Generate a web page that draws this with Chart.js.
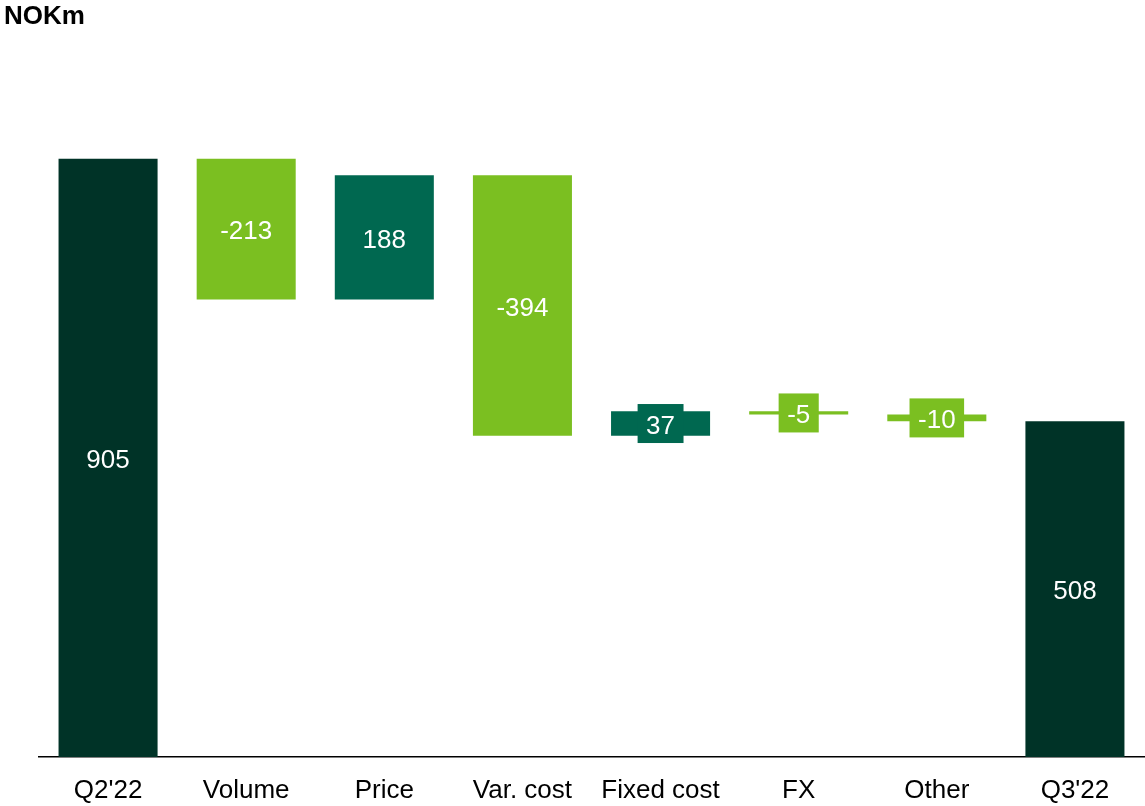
<!DOCTYPE html>
<html>
<head>
<meta charset="utf-8">
<script src="https://cdn.jsdelivr.net/npm/chart.js@4/dist/chart.umd.min.js"></script>
<style>
  html, body { margin: 0; padding: 0; background: #fff; }
  #wrap { width: 1145px; height: 806px; position: relative; }
</style>
</head>
<body>
<div id="wrap"><canvas id="bridge"></canvas></div>
<script>
/* NOKm bridge Q2'22 -> Q3'22 */
const categories = ["Q2'22", "Volume", "Price", "Var. cost", "Fixed cost", "FX", "Other", "Q3'22"];
const changes = [905, -213, 188, -394, 37, -5, -10, 508];
const isTotal = [true, false, false, false, false, false, false, true];
const unitLabel = "NOKm";

const DARK = '#003327', MID = '#006850', LIGHT = '#7BBF21';

// floating ranges from the running total
let run = 0;
const ranges = changes.map((v, i) => {
  if (isTotal[i]) { run = v; return [0, v]; }
  const r = [run, run + v];
  run += v;
  return r;
});
const colors = changes.map((v, i) => isTotal[i] ? DARK : (v < 0 ? LIGHT : MID));

const FONT = '"Liberation Sans", Arial, sans-serif';

const barLabels = {
  id: 'barLabels',
  afterDatasetsDraw(chart) {
    const c = chart.ctx;
    const meta = chart.getDatasetMeta(0);
    c.save();
    c.font = '26px ' + FONT;
    c.textAlign = 'center';
    c.textBaseline = 'middle';
    meta.data.forEach((bar, i) => {
      const txt = String(changes[i]);
      const cy = (bar.y + bar.base) / 2;
      const h = Math.abs(bar.base - bar.y);
      if (h < 36) {
        const w = c.measureText(txt).width + 17;
        c.fillStyle = colors[i];
        c.fillRect(bar.x - w / 2, cy - 19.5, w, 39);
      }
      c.fillStyle = '#ffffff';
      c.fillText(txt, bar.x, cy + 3);
    });
    // unit caption
    c.font = 'bold 26px ' + FONT;
    c.textAlign = 'left';
    c.fillStyle = '#000';
    c.fillText(unitLabel, 4, 17);
    c.restore();
  }
};

new Chart(document.getElementById('bridge').getContext('2d'), {
  type: 'bar',
  data: {
    labels: categories,
    datasets: [{
      data: ranges,
      backgroundColor: colors,
      borderWidth: 0,
      categoryPercentage: 1,
      barPercentage: 0.717
    }]
  },
  options: {
    responsive: true,
    maintainAspectRatio: false,
    animation: false,
    layout: { padding: { left: 39, right: 1, top: 96, bottom: 0 } },
    plugins: { legend: { display: false }, tooltip: { enabled: false } },
    scales: {
      x: {
        grid: { display: false, drawTicks: false },
        border: { display: true, color: '#000', width: 1.5 },
        ticks: { color: '#000', font: { family: FONT, size: 26 }, padding: 18, maxRotation: 0 },
        afterFit: (scale) => { scale.height = 49; }
      },
      y: { display: false, min: 0, max: 1000 }
    }
  },
  plugins: [barLabels]
});
</script>
</body>
</html>
